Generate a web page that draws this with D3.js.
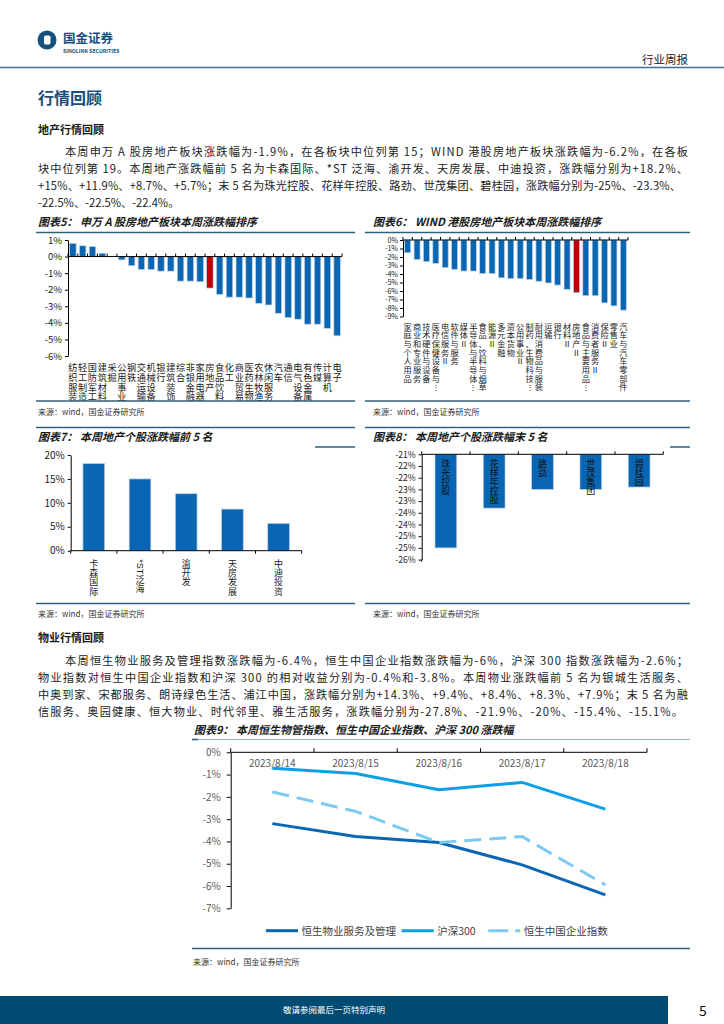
<!DOCTYPE html>
<html><head><meta charset="utf-8">
<script src="https://cdn.jsdelivr.net/npm/d3@7"></script>
<style>
html,body{margin:0;padding:0;background:#fff}
svg{display:block}
text{font-family:"Noto Sans CJK SC","Noto Sans",sans-serif}
.lc{font-family:"Liberation Sans","Noto Sans CJK SC",sans-serif}
</style></head><body>
<svg id="page" width="724" height="1024"></svg>
<script>
// ---------------- DATA ----------------
const c5Cats = ["纺织服装","轻工制造","国防军工","建筑材料","采掘","公用事业","钢铁","交通运输","机械设备","银行","建筑装饰","综合","非银金融","家用电器","房地产","食品饮料","化工","商业贸易","医药生物","农林牧渔","休闲服务","汽车","通信","电气设备","有色金属","传媒","计算机","电子"];
const c5Vals = [0.8,0.65,0.6,0.2,0.0,-0.2,-0.55,-0.78,-0.78,-0.88,-0.88,-1.48,-1.48,-1.52,-1.9,-2.28,-2.45,-2.45,-2.5,-2.82,-2.92,-3.42,-3.68,-3.78,-4.08,-4.08,-4.33,-4.78];
const c5Ticks = [1,0,-1,-2,-3,-4,-5,-6];
const c5TickLabels = ["1%","0%","-1%","-2%","-3%","-4%","-5%","-6%"];
const c5Highlight = "房地产";

const c6Cats = ["家庭与个人用品","商业和专业服务","技术硬件与设备","医疗保健设备与…","电信服务Ⅱ","软件与服务","媒体Ⅱ","半导体与半导体…","食品、饮料与烟草","能源Ⅱ","多元金融","资本货物","公用事业Ⅱ","制药、生物科技…","耐用消费品与服装","运输","银行","材料Ⅱ","房地产Ⅱ","食品与主要用品…","消费者服务Ⅱ","保险Ⅱ","零售业","汽车与汽车零部件"];
const c6Vals = [-1.5,-2.3,-2.55,-2.75,-3.25,-3.45,-3.65,-3.65,-3.95,-3.95,-4.45,-4.55,-4.55,-4.65,-4.85,-5.05,-5.3,-5.8,-6.2,-6.55,-6.55,-7.4,-7.75,-8.25];
const c6Ticks = [0,-1,-2,-3,-4,-5,-6,-7,-8,-9];
const c6TickLabels = ["0%","-1%","-2%","-3%","-4%","-5%","-6%","-7%","-8%","-9%"];
const c6Highlight = "房地产Ⅱ";

const c7Cats = ["卡森国际","*ST泛海","渝开发","天房发展","中迪投资"];
const c7Vals = [18.2,15,11.9,8.7,5.7];
const c7Ticks = [0,5,10,15,20];
const c7TickLabels = ["0%","5%","10%","15%","20%"];

const c8Cats = ["珠光控股","花样年控股","路劲","世茂集团","碧桂园"];
const c8Vals = [-25,-23.3,-22.5,-22.5,-22.4];
const c8Ticks = [-21,-21.5,-22,-22.5,-23,-23.5,-24,-24.5,-25,-25.5];
const c8TickLabels = ["-21%","-22%","-22%","-23%","-23%","-24%","-24%","-25%","-25%","-26%"];

const c9Dates = ["2023/8/14","2023/8/15","2023/8/16","2023/8/17","2023/8/18"];
const c9Wuye = [-3.2,-3.78,-4.05,-5.05,-6.4];
const c9Hs300 = [-0.72,-0.95,-1.68,-1.35,-2.55];
const c9Hscei = [-1.78,-2.65,-4.05,-3.78,-5.95];
const c9SeriesNames = ["恒生物业服务及管理","沪深300","恒生中国企业指数"];
const c9Ticks = [0,-1,-2,-3,-4,-5,-6,-7];
const c9TickLabels = ["0%","-1%","-2%","-3%","-4%","-5%","-6%","-7%"];

// ---------------- STYLE ----------------
const NUM = '"Liberation Sans", Arial, sans-serif';
const BLUE = "#0a66b2", RED = "#c00000", FRAME = "#2f607f";
const svg = d3.select("#page");

function txt(x, y, s, size, opts = {}) {
  const t = svg.append("text").attr("x", x).attr("y", y).attr("font-size", size)
    .attr("fill", opts.fill || "#1a1a1a").text(s);
  if (opts.weight) t.attr("font-weight", opts.weight);
  if (opts.italic) t.attr("font-style", "italic");
  if (opts.anchor) t.attr("text-anchor", opts.anchor);
  if (opts.family) t.attr("font-family", opts.family);
  if (opts.len) t.attr("textLength", opts.len).attr("lengthAdjust", "spacing");
  return t;
}
function hline(x1, x2, y, color, w) {
  svg.append("line").attr("x1", x1).attr("x2", x2).attr("y1", y).attr("y2", y)
    .attr("stroke", color).attr("stroke-width", w);
}
// vertical category label: one glyph per row, latin runs turned sideways
function vLabel(g, str, cx, cy0, step, size, fill) {
  const toks = str.match(/[\x21-\x7E]+|\S/gu) || [];
  let y = cy0 - step / 2;
  toks.forEach(t => {
    if (/^[\x21-\x7E]+$/.test(t)) {
      const el = g.append("text").attr("class", "lc")
        .attr("transform", `translate(${cx},${y + 0.5}) rotate(90)`)
        .attr("dominant-baseline", "central").attr("font-size", size).attr("fill", fill).text(t);
      y += el.node().getComputedTextLength() + 1;
    } else {
      g.append("text").attr("class", "lc").attr("x", cx).attr("y", y + step / 2)
        .attr("text-anchor", "middle").attr("dominant-baseline", "central")
        .attr("font-size", size).attr("fill", fill).text(t === "…" ? "⋮" : t);
      y += step;
    }
  });
}
function styleAxis(g, size, color) {
  g.selectAll("path.domain").attr("stroke", "#000").attr("stroke-width", 1);
  g.selectAll(".tick line").attr("stroke", "#000");
  g.selectAll(".tick text").attr("font-family", NUM).attr("font-size", size).attr("fill", color);
}
function bandTicks(g, xs, y, len) {
  const r = xs.range(), st = xs.step(), n = xs.domain().length;
  g.append("line").attr("x1", r[0]).attr("x2", r[1]).attr("y1", y).attr("y2", y).attr("stroke", "#000");
  for (let i = 0; i <= n; i++) {
    const x = r[0] + i * st;
    g.append("line").attr("x1", x).attr("x2", x).attr("y1", y).attr("y2", y + len).attr("stroke", "#000");
  }
}

// ---------------- HEADER ----------------
svg.append("circle").attr("cx", 47).attr("cy", 40).attr("r", 9.5).attr("fill", "#15507e");
svg.append("rect").attr("x", 44).attr("y", 35.5).attr("width", 6.5).attr("height", 9).attr("rx", 1.8).attr("fill", "#fff");
txt(63, 42.5, "国金证券", 12.5, { weight: "bold", fill: "#15507e" });
txt(63, 53, "SINOLINK SECURITIES", 5.2, { weight: "bold", fill: "#15507e", family: NUM });
txt(688, 64, "行业周报", 11.5, { anchor: "end", fill: "#222" });
hline(0, 724, 67.5, "#3f6f92", 1.6);

txt(38, 104, "行情回顾", 16, { weight: "bold", fill: "#1b4d78" });
txt(38, 134, "地产行情回顾", 11, { weight: "bold" });

const p1 = [
  "本周申万 A 股房地产板块涨跌幅为-1.9%，在各板块中位列第 15；WIND 港股房地产板块涨跌幅为-6.2%，在各板",
  "块中位列第 19。本周地产涨跌幅前 5 名为卡森国际、*ST 泛海、渝开发、天房发展、中迪投资，涨跌幅分别为+18.2%、",
  "+15%、+11.9%、+8.7%、+5.7%；末 5 名为珠光控股、花样年控股、路劲、世茂集团、碧桂园，涨跌幅分别为-25%、-23.3%、",
  "-22.5%、-22.5%、-22.4%。"];
const p1y = [156, 173, 190, 207];
p1.forEach((s, i) => {
  const x = i === 0 ? 65 : 38;
  txt(x, p1y[i], s, 11.2, { fill: "#222", len: i === 0 ? 623 : i === 1 ? 650 : i === 2 ? 643 : null });
});

// ---------------- CHART 5 ----------------
txt(38, 226, "图表5： 申万 A 股房地产板块本周涨跌幅排序", 11, { weight: "bold", italic: true });
hline(36, 355, 232.5, FRAME, 1.5);
{
  const g = svg.append("g");
  const x = d3.scaleBand().domain(c5Cats).range([68, 342]).padding(0);
  const y = d3.scaleLinear().domain([1, -6]).range([240, 356]);
  const bw = x.bandwidth() * 0.66;
  g.selectAll("rect.b").data(c5Cats).enter().append("rect")
    .attr("x", d => x(d) + (x.bandwidth() - bw) / 2)
    .attr("y", (d, i) => y(Math.max(0, c5Vals[i])))
    .attr("width", bw)
    .attr("height", (d, i) => Math.abs(y(c5Vals[i]) - y(0)))
    .attr("fill", d => d === c5Highlight ? RED : BLUE)
    .attr("stroke", "#b8cfe6").attr("stroke-width", 0.7);
  const ax = g.append("g").attr("transform", "translate(68,0)")
    .call(d3.axisLeft(y).tickValues(c5Ticks).tickFormat((d, i) => c5TickLabels[i]).tickSize(3).tickSizeOuter(0).tickPadding(3));
  styleAxis(ax, 9.5, "#222");
  bandTicks(g, x, y(0), -3);
  c5Cats.forEach(c => vLabel(g, c, x(c) + x.bandwidth() / 2, 368, 9.75, 9.2, "#222"));
}
hline(36, 355, 401, FRAME, 1.5);
txt(38, 415, "来源：wind，国金证券研究所", 8, { fill: "#333" });

// ---------------- CHART 6 ----------------
txt(373, 226, "图表6： WIND 港股房地产板块本周涨跌幅排序", 11, { weight: "bold", italic: true });
hline(365, 690, 232.5, FRAME, 1.5);
{
  const g = svg.append("g");
  const x = d3.scaleBand().domain(c6Cats).range([403, 628]).padding(0);
  const y = d3.scaleLinear().domain([0, -9]).range([240, 316.5]);
  const bw = x.bandwidth() * 0.64;
  g.selectAll("rect.b").data(c6Cats).enter().append("rect")
    .attr("x", d => x(d) + (x.bandwidth() - bw) / 2)
    .attr("y", y(0))
    .attr("width", bw)
    .attr("height", (d, i) => y(c6Vals[i]) - y(0))
    .attr("fill", d => d === c6Highlight ? RED : BLUE)
    .attr("stroke", "#b8cfe6").attr("stroke-width", 0.7);
  const ax = g.append("g").attr("transform", "translate(403,0)")
    .call(d3.axisLeft(y).tickValues(c6Ticks).tickFormat((d, i) => c6TickLabels[i]).tickSize(3).tickSizeOuter(0).tickPadding(2));
  styleAxis(ax, 7.2, "#222");
  bandTicks(g, x, y(0), -3);
  c6Cats.forEach(c => vLabel(g, c, x(c) + x.bandwidth() / 2, 327, 8.7, 8.2, "#222"));
}
hline(365, 690, 401, FRAME, 1.5);
txt(373, 415, "来源：wind，国金证券研究所", 8, { fill: "#333" });

// ---------------- CHART 7 ----------------
hline(36, 355, 427.5, FRAME, 1.5);
txt(38, 441, "图表7： 本周地产个股涨跌幅前 5 名", 11, { weight: "bold", italic: true });
hline(315, 355, 447, FRAME, 1.5);
{
  const g = svg.append("g");
  const x = d3.scaleBand().domain(c7Cats).range([70.7, 301.7]).padding(0);
  const y = d3.scaleLinear().domain([0, 20]).range([550.7, 455]);
  const bw = x.bandwidth() * 0.47;
  g.selectAll("rect.b").data(c7Cats).enter().append("rect")
    .attr("x", d => x(d) + (x.bandwidth() - bw) / 2)
    .attr("y", (d, i) => y(c7Vals[i]))
    .attr("width", bw)
    .attr("height", (d, i) => y(0) - y(c7Vals[i]))
    .attr("fill", BLUE).attr("stroke", "#b8cfe6").attr("stroke-width", 0.7);
  const ax = g.append("g").attr("transform", "translate(70.7,0)")
    .call(d3.axisLeft(y).tickValues(c7Ticks).tickFormat((d, i) => c7TickLabels[i]).tickSize(3).tickSizeOuter(0).tickPadding(3));
  styleAxis(ax, 10, "#222");
  bandTicks(g, x, y(0), 3);
  c7Cats.forEach(c => vLabel(g, c, x(c) + x.bandwidth() / 2, 563.5, 9.4, 9, "#222"));
}
hline(36, 355, 603.5, FRAME, 1.5);
txt(38, 617, "来源：wind，国金证券研究所", 8, { fill: "#333" });

// ---------------- CHART 8 ----------------
hline(365, 690, 427.5, FRAME, 1.5);
txt(373, 441, "图表8： 本周地产个股涨跌幅末 5 名", 11, { weight: "bold", italic: true });
hline(670, 690, 447, FRAME, 1.5);
{
  const g = svg.append("g");
  const x = d3.scaleBand().domain(c8Cats).range([421.7, 663.3]).padding(0);
  const y = d3.scaleLinear().domain([-21, -25.5]).range([454.3, 559.6]);
  const bw = x.bandwidth() * 0.45;
  g.selectAll("rect.b").data(c8Cats).enter().append("rect")
    .attr("x", d => x(d) + (x.bandwidth() - bw) / 2)
    .attr("y", y(-21))
    .attr("width", bw)
    .attr("height", (d, i) => y(c8Vals[i]) - y(-21))
    .attr("fill", BLUE).attr("stroke", "#b8cfe6").attr("stroke-width", 0.7);
  const ax = g.append("g").attr("transform", "translate(421.7,0)")
    .call(d3.axisLeft(y).tickValues(c8Ticks).tickFormat((d, i) => c8TickLabels[i]).tickSize(3).tickSizeOuter(0).tickPadding(3));
  styleAxis(ax, 8.6, "#222");
  g.append("line").attr("x1", 421.7).attr("x2", 421.7).attr("y1", y(-25.5)).attr("y2", y(-25.5) + 2).attr("stroke", "#000");
  bandTicks(g, x, y(-21), -3);
  c8Cats.forEach(c => vLabel(g, c, x(c) + x.bandwidth() / 2, 463.5, 9.2, 9, "#111"));
}
hline(365, 690, 603.5, FRAME, 1.5);
txt(373, 617, "来源：wind，国金证券研究所", 8, { fill: "#333" });

// ---------------- PROPERTY SECTION ----------------
txt(38, 642, "物业行情回顾", 11, { weight: "bold" });
const p2 = [
  "本周恒生物业服务及管理指数涨跌幅为-6.4%，恒生中国企业指数涨跌幅为-6%，沪深 300 指数涨跌幅为-2.6%；",
  "物业指数对恒生中国企业指数和沪深 300 的相对收益分别为-0.4%和-3.8%。本周物业涨跌幅前 5 名为银城生活服务、",
  "中奥到家、宋都服务、朗诗绿色生活、浦江中国，涨跌幅分别为+14.3%、+9.4%、+8.4%、+8.3%、+7.9%；末 5 名为融",
  "信服务、奥园健康、恒大物业、时代邻里、雅生活服务，涨跌幅分别为-27.8%、-21.9%、-20%、-15.4%、-15.1%。"];
const p2y = [665, 682, 699, 716];
p2.forEach((s, i) => {
  const x = i === 0 ? 65 : 38;
  txt(x, p2y[i], s, 11.2, { fill: "#222", len: i === 0 ? 623 : i === 3 ? 645 : 650 });
});

// ---------------- CHART 9 ----------------
txt(194, 734, "图表9： 本周恒生物管指数、恒生中国企业指数、沪深 300 涨跌幅", 11, { weight: "bold", italic: true });
hline(192, 690, 739.5, "#8fb0c6", 1);
hline(192, 198, 739.5, FRAME, 1.6);
{
  const g = svg.append("g");
  const x = d3.scaleBand().domain(c9Dates).range([230.7, 647]).padding(0);
  const y = d3.scaleLinear().domain([0, -7]).range([752.3, 908.3]);
  const ax = g.append("g").attr("transform", "translate(230.7,0)")
    .call(d3.axisLeft(y).tickValues(c9Ticks).tickFormat((d, i) => c9TickLabels[i]).tickSize(4).tickSizeOuter(0).tickPadding(6));
  styleAxis(ax, 10, "#595959");
  bandTicks(g, x, y(0), -4);
  g.selectAll("text.d").data(c9Dates).enter().append("text")
    .attr("x", d => x(d) + x.bandwidth() / 2).attr("y", 767)
    .attr("text-anchor", "middle").attr("font-family", NUM).attr("font-size", 10)
    .attr("fill", "#595959").text(d => d);
  const series = [
    { vals: c9Wuye, color: "#0b66b3", dash: null },
    { vals: c9Hs300, color: "#0d9fe6", dash: null },
    { vals: c9Hscei, color: "#7cc9f3", dash: "17,8" }];
  const line = d3.line().x((d, i) => x(c9Dates[i]) + x.bandwidth() / 2).y(d => y(d));
  series.forEach(s => {
    const p = g.append("path").attr("d", line(s.vals)).attr("fill", "none")
      .attr("stroke", s.color).attr("stroke-width", 3).attr("stroke-linejoin", "round");
    if (s.dash) p.attr("stroke-dasharray", s.dash);
  });
  const legX = [266, 401.7, 488.3];
  series.forEach((s, i) => {
    const l = g.append("line").attr("x1", legX[i]).attr("x2", legX[i] + 32).attr("y1", 930.7).attr("y2", 930.7)
      .attr("stroke", s.color).attr("stroke-width", 3);
    if (s.dash) l.attr("stroke-dasharray", "20,7");
    g.append("text").attr("x", legX[i] + 35.5).attr("y", 934.5).attr("font-size", 10.5)
      .attr("fill", "#404040").text(c9SeriesNames[i]);
  });
}
hline(192, 690, 948.5, FRAME, 1.5);
txt(193, 965, "来源：wind，国金证券研究所", 8, { fill: "#333" });

// ---------------- FOOTER ----------------
svg.append("rect").attr("x", 0).attr("y", 996).attr("width", 668).attr("height", 28).attr("fill", "#014c72");
txt(334, 1013, "敬请参阅最后一页特别声明", 8.5, { fill: "#fff", anchor: "middle" });
txt(703, 1016, "5", 14, { fill: "#111", family: NUM, anchor: "middle" });
</script>
</body></html>
